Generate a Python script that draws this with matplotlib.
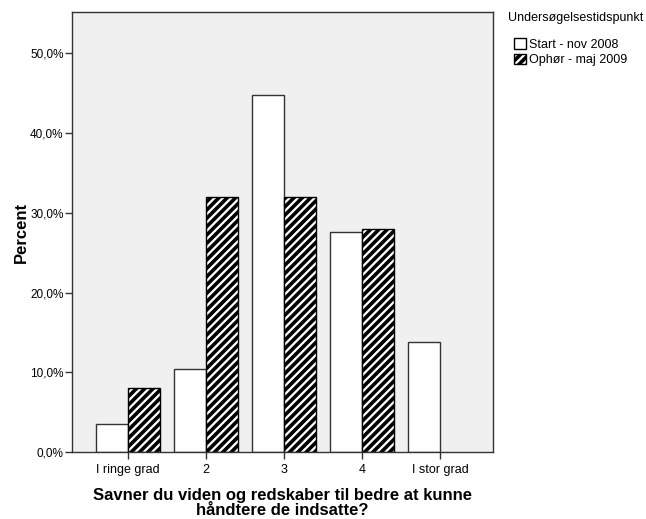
import matplotlib
matplotlib.use("Agg")
import matplotlib.pyplot as plt
import numpy as np
from matplotlib.patches import Patch

plt.rcParams['font.family'] = ['Liberation Sans', 'DejaVu Sans']
plt.rcParams['hatch.linewidth'] = 2.6

# data (percent)
categories = ['I ringe grad', '2', '3', '4', 'I stor grad']
start_2008 = [3.5, 10.4, 44.8, 27.6, 13.8]
ophor_2009 = [8.0, 32.0, 32.0, 28.0, 0.0]
yticks = [0, 10, 20, 30, 40, 50]

fig = plt.figure(figsize=(6.46, 5.19), dpi=100)
ax = fig.add_axes([72/646, 1 - 452/519, 421/646, 440/519])
ax.set_facecolor('#f0f0f0')

x = np.arange(len(categories))
w = 0.415
ax.bar(x - w/2, start_2008, w, color='white', edgecolor='#333333', linewidth=1.0)
bars = ax.bar(x + w/2, ophor_2009, w, color='white', edgecolor='black', linewidth=1.0, hatch='////')
for b, v in zip(bars, ophor_2009):
    if v == 0:
        b.set_visible(False)

ax.set_xlim(-0.72, 4.68)
ax.set_ylim(0, 55.2)
ax.set_yticks(yticks)
ax.set_yticklabels([f'{v:.1f}%'.replace('.', ',') for v in yticks], fontsize=8.5)
ax.set_xticks(x)
ax.set_xticklabels(categories, fontsize=9)
ax.tick_params(axis='both', direction='out', length=5, width=1, color='#333333')
ax.tick_params(axis='y', pad=1)
for s in ax.spines.values():
    s.set_color('#333333')
    s.set_linewidth(1)

ax.set_ylabel('Percent', fontsize=12, fontweight='bold', labelpad=1)
ax.set_xlabel('Savner du viden og redskaber til bedre at kunne\nhåndtere de indsatte?',
              fontsize=12, fontweight='bold', labelpad=9, linespacing=1.0)

fig.text(508/646, 1 - 18/519, 'Undersøgelsestidspunkt', fontsize=9, va='center', ha='left')
handles = [Patch(facecolor='white', edgecolor='black', label='Start - nov 2008'),
           Patch(facecolor='white', edgecolor='black', hatch='////', label='Ophør - maj 2009')]
fig.legend(handles=handles, loc='upper left', bbox_to_anchor=(513/646, 1 - 37/519),
           frameon=False, fontsize=9, handlelength=0.9, handleheight=0.9,
           handletextpad=0.3, labelspacing=0.25, borderpad=0.1, borderaxespad=0)

fig.savefig('out.png', dpi=100)
